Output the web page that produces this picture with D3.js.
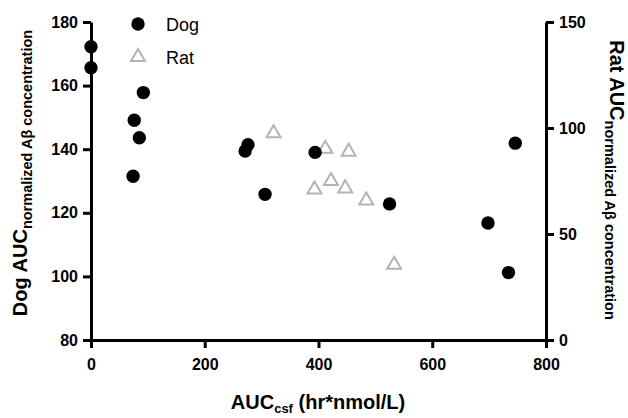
<!DOCTYPE html>
<html>
<head>
<meta charset="utf-8">
<script src="https://cdn.jsdelivr.net/npm/d3@7"></script>
<style>
  body { margin: 0; background: #fff; }
  svg text { font-family: "Liberation Sans", Arial, sans-serif; }
  .tick text { font-size: 16px; font-weight: bold; fill: #000; }
  .axis-title { font-size: 20px; font-weight: bold; fill: #000; }
  .legend-label { font-size: 18px; fill: #000; }
</style>
</head>
<body>
<div id="chart"></div>
<script>
(function () {
    // Dog series: AUC csf vs dog normalized concentration (left axis)
    const dogX = [0, 0, 92, 76, 85, 74, 271, 276, 306, 394, 525, 698, 734, 746];
    const dogY = [172.2, 165.6, 157.8, 149.1, 143.6, 131.5, 139.4, 141.4, 125.8, 139.0, 122.8, 116.8, 101.2, 141.9];

    // Rat series: right axis
    const ratX = [321, 393, 412, 422, 447, 453, 484, 533];
    const ratY = [97.5, 71.0, 90.2, 75.0, 71.5, 88.8, 65.8, 35.5];

    const xTicks = [0, 200, 400, 600, 800];
    const leftTicks = [80, 100, 120, 140, 160, 180];
    const rightTicks = [0, 50, 100, 150];

    const width = 628, height = 418;
    const margin = { top: 22, right: 82, bottom: 78, left: 91 };

    const svg = d3.select("#chart")
        .append("svg")
        .attr("width", width)
        .attr("height", height);

    const x = d3.scaleLinear().domain([0, 800]).range([margin.left, width - margin.right]);
    const yLeft = d3.scaleLinear().domain([80, 180]).range([height - margin.bottom, margin.top]);
    const yRight = d3.scaleLinear().domain([0, 150]).range([height - margin.bottom, margin.top]);

    // Axes
    const styleAxis = (g) => {
        g.select(".domain").attr("stroke", "#000").attr("stroke-width", 3);
        g.selectAll(".tick line").attr("stroke", "#000").attr("stroke-width", 3);
    };

    svg.append("g")
        .attr("transform", `translate(0,${height - margin.bottom})`)
        .call(d3.axisBottom(x).tickValues(xTicks).tickSize(8).tickSizeOuter(0).tickPadding(11))
        .call(styleAxis);

    svg.append("g")
        .attr("transform", `translate(${margin.left},0)`)
        .call(d3.axisLeft(yLeft).tickValues(leftTicks).tickSize(8).tickSizeOuter(0).tickPadding(5))
        .call(styleAxis);

    svg.append("g")
        .attr("transform", `translate(${width - margin.right},0)`)
        .call(d3.axisRight(yRight).tickValues(rightTicks).tickSize(8).tickSizeOuter(0).tickPadding(5))
        .call(styleAxis);

    // Axis titles
    const xTitle = svg.append("text")
        .attr("class", "axis-title")
        .attr("x", 318)
        .attr("y", 409)
        .attr("text-anchor", "middle");
    xTitle.append("tspan").text("AUC");
    xTitle.append("tspan").attr("font-size", "13px").attr("dy", 4).text("csf");
    xTitle.append("tspan").attr("dy", -4).text(" (hr*nmol/L)");

    const leftTitle = svg.append("text")
        .attr("class", "axis-title")
        .attr("transform", "translate(27,173) rotate(-90)")
        .attr("text-anchor", "middle");
    leftTitle.append("tspan").text("Dog AUC");
    leftTitle.append("tspan").attr("font-size", "14.5px").attr("dy", 5).text("normalized A\u03b2 concentration");

    const rightTitle = svg.append("text")
        .attr("class", "axis-title")
        .attr("transform", "translate(610,180) rotate(90)")
        .attr("text-anchor", "middle");
    rightTitle.append("tspan").text("Rat AUC");
    rightTitle.append("tspan").attr("font-size", "14.5px").attr("dy", 5).text("normalized A\u03b2 concentration");

    // Rat triangles (open, grey)
    const tri = d3.symbol().type(d3.symbolTriangle).size(85);
    svg.append("g")
        .selectAll("path")
        .data(d3.zip(ratX, ratY))
        .join("path")
        .attr("d", tri)
        .attr("transform", d => `translate(${x(d[0])},${yRight(d[1])})`)
        .attr("fill", "none")
        .attr("stroke", "#b3b3b3")
        .attr("stroke-width", 2);

    // Dog circles (filled black)
    svg.append("g")
        .selectAll("circle")
        .data(d3.zip(dogX, dogY))
        .join("circle")
        .attr("cx", d => x(d[0]))
        .attr("cy", d => yLeft(d[1]))
        .attr("r", 6.7)
        .attr("fill", "#000");

    // Legend
    const legend = svg.append("g").attr("transform", "translate(138,24)");
    legend.append("circle").attr("cx", 0).attr("cy", 0).attr("r", 6.7).attr("fill", "#000");
    legend.append("text").attr("class", "legend-label").attr("x", 28).attr("y", 6.5).text("Dog");
    legend.append("path")
        .attr("d", tri)
        .attr("transform", "translate(0,33)")
        .attr("fill", "none")
        .attr("stroke", "#b3b3b3")
        .attr("stroke-width", 2);
    legend.append("text").attr("class", "legend-label").attr("x", 28).attr("y", 39.5).text("Rat");
})();
</script>
</body>
</html>
